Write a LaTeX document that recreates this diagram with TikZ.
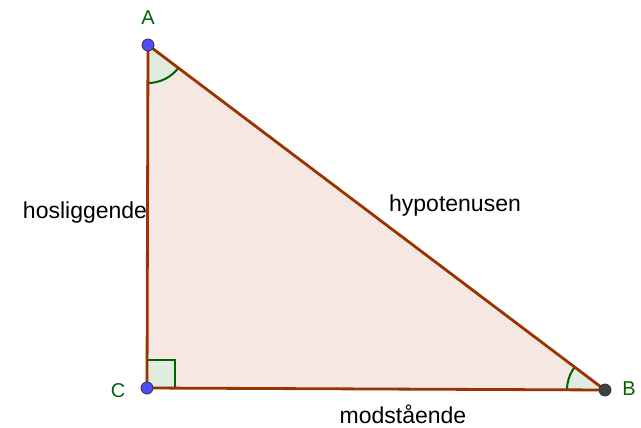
\documentclass[tikz,border=0pt]{standalone}
\usepackage{fontspec}
\setmainfont{Liberation Sans}
\usetikzlibrary{angles}
\definecolor{edge}{RGB}{153,51,0}
\definecolor{tfill}{RGB}{245,231,226}
\definecolor{lbl}{RGB}{0,100,0}
\definecolor{ptblue}{RGB}{77,77,255}
\definecolor{ptgray}{RGB}{64,64,64}
\tikzset{
  ptlabel/.style={text=lbl, font=\fontsize{20}{20}\selectfont},
  sidelabel/.style={font=\fontsize{23}{24}\selectfont},
  anglemark/.style={draw=lbl, line width=2pt, fill=lbl!12},
  side/.style={draw=edge, line width=2.8pt},
  pt/.style={circle, draw=black!80, line width=0.8pt, inner sep=0pt, minimum size=12pt}
}
\begin{document}
\begin{tikzpicture}[x=1pt,y=-1pt]
\useasboundingbox (0,0) rectangle (641,428);

   \coordinate (A) at (148,45);
   \coordinate (B) at (605,390);
   \coordinate (C) at (147,388);

   \fill[tfill] (A) -- (B) -- (C) -- cycle;

   % vinkler
   \pic[anglemark, angle radius=38pt] {angle=C--A--B};
   \pic[anglemark, angle radius=38pt] {angle=A--B--C};
   \draw[anglemark] (C) rectangle ++(28,-28);

   % sider
   \draw[side] (A) -- (B);
   \draw[side] (B) -- (C);
   \draw[side] (C) -- (A);

   \node[pt, fill=ptblue] at (A) (pA) {};
   \node[pt, fill=ptgray] at (B) (pB) {};
   \node[pt, fill=ptblue] at (C) (pC) {};

   \node[ptlabel] at (148,18)  (lblA) {A};
   \node[ptlabel] at (629,389) (lblB) {B};
   \node[ptlabel] at (118,391) (lblC) {C};

   \node[sidelabel] at (85,213)  (hos) {hosliggende};
   \node[sidelabel] at (455,206) (hyp) {hypotenusen};
   \node[sidelabel] at (403,414) (mod) {modstående};

\end{tikzpicture}
\end{document}
